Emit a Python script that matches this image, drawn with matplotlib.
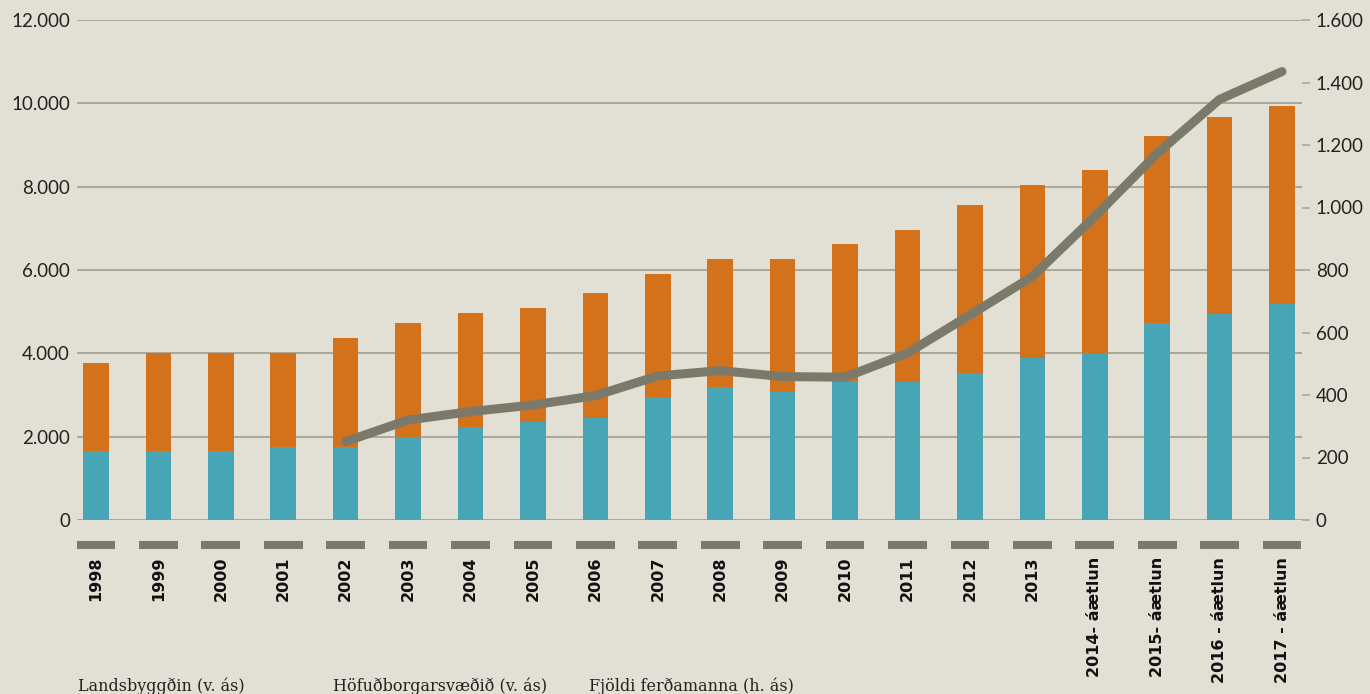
import matplotlib
matplotlib.use("Agg")
import matplotlib.pyplot as plt
import matplotlib.transforms as mtransforms
import numpy as np

plt.rcParams['font.family'] = ['Lato', 'DejaVu Sans']

# gögn
years = ['1998', '1999', '2000', '2001', '2002', '2003', '2004', '2005', '2006', '2007',
         '2008', '2009', '2010', '2011', '2012', '2013',
         '2014- áætlun', '2015- áætlun', '2016 - áætlun', '2017 - áætlun']
hofudborg = [1648, 1648, 1648, 1760, 1760, 2000, 2240, 2360, 2472, 2944,
             3184, 3072, 3312, 3312, 3536, 3896, 4008, 4720, 4960, 5192]
totals = [3776, 4016, 4016, 4016, 4368, 4728, 4968, 5080, 5440, 5912,
          6264, 6264, 6624, 6968, 7568, 8040, 8392, 9216, 9680, 9928]
landsbyggd = [t - h for t, h in zip(totals, hofudborg)]
ferdamenn_years = years[4:]
ferdamenn = [251, 320, 347, 368, 398, 461, 478, 459, 457, 534, 656, 779, 971, 1173, 1346, 1435]

bg = '#e2e0d4'
teal = '#47a5b5'
orange = '#d4721c'
grey = '#7b7a6a'
gridc = '#aaa89a'

fig = plt.figure(figsize=(13.7, 6.94), dpi=100, facecolor=bg)
ax = fig.add_axes([77/1370, 174/694, 1225/1370, 500/694])
ax.set_facecolor(bg)
x = np.arange(len(years))
w = 0.41
ax.bar(x, hofudborg, w, color=teal, zorder=2)
ax.bar(x, landsbyggd, w, bottom=hofudborg, color=orange, zorder=2)
ax.set_ylim(0, 12000)
ax.set_xlim(-0.304, 19.32)
ax.set_yticks(range(0, 12001, 2000))
ax.set_yticklabels(['0', '2.000', '4.000', '6.000', '8.000', '10.000', '12.000'])
ax.yaxis.grid(True, color=gridc, lw=1.4, zorder=0)
ax.set_axisbelow(True)
for s in ax.spines.values():
    s.set_visible(False)
ax.tick_params(axis='y', length=0, pad=5, labelsize=13.5, labelcolor='#222222')
ax.set_xticks(x)
ax.set_xticklabels(years, rotation=90, fontsize=11.5, fontweight='bold', va='top',
                   family='DejaVu Sans')
ax.tick_params(axis='x', length=0, pad=26.5, labelcolor='#111111')

# gráu strikin undir ásnum
trans = mtransforms.blended_transform_factory(ax.transData, ax.transAxes)
for i in x:
    ax.plot([i - 0.31, i + 0.31], [-0.05, -0.05], color=grey, lw=5.8,
            solid_capstyle='butt', transform=trans, clip_on=False)

ax2 = ax.twinx()
ax2.set_ylim(0, 1600)
ax2.set_yticks(range(0, 1601, 200))
ax2.set_yticklabels(['0', '200', '400', '600', '800', '1.000', '1.200', '1.400', '1.600'])
for s in ax2.spines.values():
    s.set_visible(False)
ax2.tick_params(axis='y', length=6, width=1.2, color=gridc, pad=4, labelsize=13.5, labelcolor='#222222')
ax2.plot(np.arange(4, 20), ferdamenn, color=grey, lw=6.5, solid_capstyle='round',
         solid_joinstyle='round', zorder=5)

# skýringar
legend_txt = ['Landsbyggðin (v. ás)', 'Höfuðborgarsvæðið (v. ás)', 'Fjöldi ferðamanna (h. ás)']
legend_x = [78, 333, 589]
for t, px in zip(legend_txt, legend_x):
    fig.text(px / 1370, 1 - 686 / 694, t, fontsize=11.5, family='DejaVu Serif',
             color='#222222', va='center', ha='left')

fig.savefig('out.png', dpi=100, facecolor=bg)
